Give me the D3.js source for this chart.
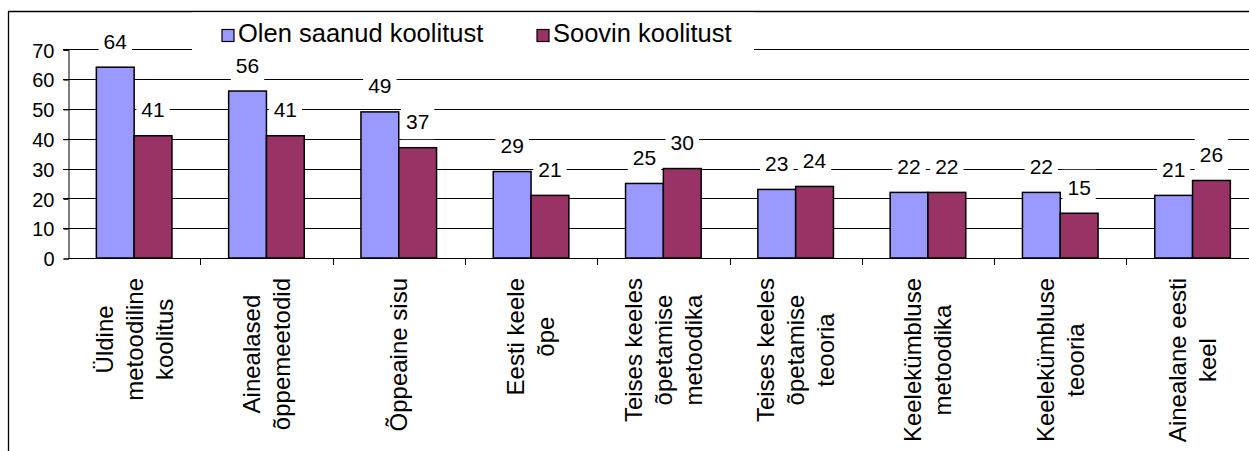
<!DOCTYPE html>
<html><head><meta charset="utf-8">
<script src="https://cdn.jsdelivr.net/npm/d3@7"></script>
<style>
html,body{margin:0;padding:0;background:#fff;}
text{font-family:"Liberation Sans",Arial,sans-serif;fill:#000;}
</style></head>
<body><svg id="c" width="1249" height="451"></svg>
<script>
const categories = [
  ["Üldine","metoodiline","koolitus"],
  ["Ainealased","õppemeetodid"],
  ["Õppeaine sisu"],
  ["Eesti keele","õpe"],
  ["Teises keeles","õpetamise","metoodika"],
  ["Teises keeles","õpetamise","teooria"],
  ["Keelekümbluse","metoodika"],
  ["Keelekümbluse","teooria"],
  ["Ainealane eesti","keel"]
];
const seriesNames = ["Olen saanud koolitust","Soovin koolitust"];
const olen = [64,56,49,29,25,23,22,22,21];
const soovin = [41,41,37,21,30,24,22,15,26];
const yTicks = [0,10,20,30,40,50,60,70];
const colors = ["#9999FF","#993366"];

(function(){
const svg = d3.select("#c");
const pLeft = 68, pRight = 1258.7, pTop = 49.3, pBottom = 258;
const idx = categories.map((d,i)=>i);
const x = d3.scaleBand().domain(idx).range([pLeft,pRight]).paddingInner(0).paddingOuter(0);
const bw = x.bandwidth()/3.5;
const y = d3.scaleLinear().domain([0,70]).range([pBottom,pTop]);

// border
svg.append("line").attr("x1",8.5).attr("x2",8.5).attr("y1",11.5).attr("y2",451).attr("stroke","#000").attr("stroke-width",1.3);
svg.append("line").attr("x1",8).attr("x2",1249).attr("y1",11.5).attr("y2",11.5).attr("stroke","#000").attr("stroke-width",1.3);

// gridlines
svg.append("g").selectAll("line").data(yTicks.filter(t=>t>0)).join("line")
  .attr("x1",pLeft-5).attr("x2",1249)
  .attr("y1",d=>Math.round(y(d))+0.5).attr("y2",d=>Math.round(y(d))+0.5)
  .attr("stroke","#000").attr("stroke-width",1);

// y axis
const yAxis = d3.axisLeft(y).tickValues(yTicks).tickSize(5).tickPadding(9);
const ya = svg.append("g").attr("transform",`translate(${pLeft+0.5},0.5)`).call(yAxis);
ya.select(".domain").attr("stroke","#000");
ya.selectAll("line").attr("stroke","#000");
ya.selectAll("text").attr("font-size",20).attr("font-family","Liberation Sans, Arial, sans-serif").attr("dy","0.36em");

// bars
const series = [olen, soovin];
series.forEach((vals,s)=>{
  svg.append("g").selectAll("rect").data(vals).join("rect")
    .attr("x",(d,i)=>x(i)+0.75*bw+s*bw)
    .attr("y",d=>y(d))
    .attr("width",bw)
    .attr("height",d=>pBottom-y(d))
    .attr("fill",colors[s]).attr("stroke","#000").attr("stroke-width",1.5);
});

// x axis
svg.append("line").attr("x1",pLeft).attr("x2",1249).attr("y1",pBottom+0.5).attr("y2",pBottom+0.5).attr("stroke","#000");
svg.append("g").selectAll("line").data(idx.slice(1)).join("line")
  .attr("x1",d=>Math.round(x(d))+0.5).attr("x2",d=>Math.round(x(d))+0.5)
  .attr("y1",pBottom).attr("y2",pBottom+7).attr("stroke","#000");

// category labels
const lineH = 30;
categories.forEach((lines,i)=>{
  const cx = x(i)+x.bandwidth()/2;
  const g = svg.append("g");
  const ts = lines.map((ln,k)=> g.append("text").text(ln).attr("font-size",24).attr("text-anchor","middle"));
  const maxLen = d3.max(ts, t=>t.node().getComputedTextLength());
  const cy = 278 + maxLen/2;
  ts.forEach((t,k)=>{
    const lx = cx + (k-(lines.length-1)/2)*lineH;
    t.attr("transform",`translate(${lx},${cy}) rotate(-90)`).attr("dy","0.35em");
  });
});

// legend
svg.append("rect").attr("x",192).attr("y",12.5).attr("width",562).attr("height",52).attr("fill","#fff");
const legX = [222, 537];
seriesNames.forEach((n,s)=>{
  svg.append("rect").attr("x",legX[s]).attr("y",29.5).attr("width",12).attr("height",12)
    .attr("fill",colors[s]).attr("stroke","#000").attr("stroke-width",1.2);
  svg.append("text").attr("x",legX[s]+16).attr("y",42).attr("font-size",25.5).text(n);
});

// data labels
series.forEach((vals,s)=>{
  vals.forEach((v,i)=>{
    const cx = x(i)+0.75*bw+s*bw+bw/2;
    const by = y(v)-18.5;
    const g = svg.append("g");
    const r = g.append("rect").attr("fill","#fff");
    const t = g.append("text").attr("x",cx).attr("y",by).attr("text-anchor","middle").attr("font-size",21).text(v);
    const w = t.node().getComputedTextLength();
    r.attr("x",cx-w/2-5).attr("width",w+10).attr("y",by-7.5-17.5).attr("height",35);
  });
});
})();
</script></body></html>
